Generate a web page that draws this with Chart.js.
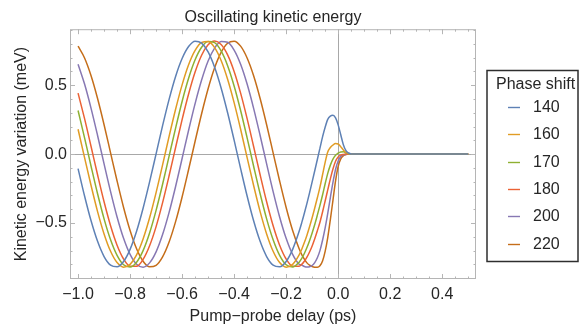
<!DOCTYPE html>
<html>
<head>
<meta charset="utf-8">
<title>Oscillating kinetic energy</title>
<script src="https://cdn.jsdelivr.net/npm/chart.js@4.4.1/dist/chart.umd.min.js"></script>
<style>
  html, body { margin: 0; padding: 0; background: #fff; }
  #chart { display: block; }
</style>
</head>
<body>
<canvas id="chart" width="581" height="327"></canvas>
<script>
/* ================== DATA ================== */
// pump-probe delay (ps)
const delays = [
  -1.0, -0.975, -0.95, -0.925, -0.9, -0.875, -0.85, -0.825, -0.8, -0.775,
  -0.75, -0.725, -0.7, -0.675, -0.65, -0.625, -0.6, -0.575, -0.55, -0.525,
  -0.5, -0.475, -0.45, -0.425, -0.4, -0.375, -0.35, -0.325, -0.3, -0.275,
  -0.25, -0.225, -0.2, -0.175, -0.15,
  -0.14, -0.13, -0.12, -0.11, -0.1, -0.09, -0.08, -0.07, -0.06, -0.05,
  -0.04, -0.03, -0.02, -0.01, 0.0, 0.01, 0.02, 0.03, 0.04, 0.05,
  0.1, 0.2, 0.3, 0.4, 0.5
];

const phaseShifts = [140, 160, 170, 180, 200, 220];

// kinetic energy variation (meV), one array per phase shift
const shift140 = [
  -0.105, -0.304, -0.484, -0.633, -0.743, -0.806, -0.818, -0.779, -0.691, -0.560,
  -0.393, -0.202, 0.002, 0.206, 0.397, 0.563, 0.693, 0.780, 0.819, 0.805,
  0.741, 0.630, 0.480, 0.300, 0.101, -0.105, -0.304, -0.484, -0.633, -0.743,
  -0.806, -0.818, -0.779, -0.691, -0.560,
  -0.497, -0.429, -0.357, -0.281, -0.202, -0.121, -0.039, 0.043, 0.125, 0.195,
  0.252, 0.276, 0.281, 0.262, 0.212, 0.140, 0.068, 0.025, 0.008, 0.001,
  0, 0, 0, 0, 0
];
const shift160 = [
  0.180, -0.025, -0.228, -0.417, -0.579, -0.705, -0.787, -0.820, -0.800, -0.731,
  -0.616, -0.462, -0.279, -0.078, 0.128, 0.325, 0.502, 0.648, 0.752, 0.810,
  0.816, 0.772, 0.679, 0.543, 0.373, 0.180, -0.025, -0.228, -0.417, -0.579,
  -0.705, -0.787, -0.820, -0.800, -0.731,
  -0.690, -0.642, -0.588, -0.527, -0.462, -0.391, -0.317, -0.240, -0.150, -0.060,
  0.015, 0.048, 0.066, 0.076, 0.073, 0.054, 0.030, 0.012, 0.004, 0.001,
  0, 0, 0, 0, 0
];
const shift170 = [
  0.316, 0.118, -0.088, -0.288, -0.470, -0.622, -0.735, -0.803, -0.819, -0.784,
  -0.700, -0.572, -0.408, -0.219, -0.015, 0.189, 0.382, 0.550, 0.684, 0.775,
  0.817, 0.808, 0.748, 0.641, 0.494, 0.316, 0.118, -0.088, -0.288, -0.470,
  -0.622, -0.735, -0.803, -0.819, -0.784,
  -0.757, -0.721, -0.678, -0.628, -0.572, -0.511, -0.443, -0.372, -0.297, -0.215,
  -0.140, -0.080, -0.036, -0.009, 0.007, 0.016, 0.017, 0.010, 0.003, 0.000,
  0, 0, 0, 0, 0
];
const shift180 = [
  0.442, 0.257, 0.055, -0.150, -0.346, -0.520, -0.661, -0.761, -0.813, -0.814,
  -0.764, -0.665, -0.526, -0.352, -0.157, 0.048, 0.250, 0.436, 0.595, 0.717,
  0.793, 0.820, 0.795, 0.720, 0.600, 0.442, 0.257, 0.055, -0.150, -0.346,
  -0.520, -0.661, -0.761, -0.813, -0.814,
  -0.800, -0.777, -0.748, -0.710, -0.666, -0.614, -0.556, -0.494, -0.420, -0.340,
  -0.260, -0.180, -0.108, -0.052, -0.020, -0.007, -0.002, 0, 0, 0,
  0, 0, 0, 0, 0
];
const shift200 = [
  0.652, 0.508, 0.332, 0.135, -0.071, -0.272, -0.456, -0.611, -0.728, -0.799,
  -0.820, -0.789, -0.709, -0.584, -0.423, -0.235, -0.032, 0.173, 0.366, 0.537,
  0.675, 0.769, 0.816, 0.811, 0.755, 0.652, 0.508, 0.332, 0.135, -0.071,
  -0.272, -0.456, -0.611, -0.728, -0.799,
  -0.805, -0.815, -0.819, -0.817, -0.808, -0.787, -0.752, -0.700, -0.625, -0.535,
  -0.430, -0.315, -0.205, -0.112, -0.050, -0.018, -0.006, -0.002, 0, 0,
  0, 0, 0, 0, 0
];
const shift220 = [
  0.783, 0.697, 0.568, 0.403, 0.213, 0.009, -0.195, -0.387, -0.554, -0.687,
  -0.777, -0.818, -0.807, -0.746, -0.638, -0.490, -0.311, -0.112, 0.093, 0.293,
  0.474, 0.626, 0.738, 0.804, 0.819, 0.783, 0.697, 0.568, 0.403, 0.213,
  0.009, -0.195, -0.387, -0.554, -0.687,
  -0.729, -0.762, -0.789, -0.806, -0.815, -0.820, -0.821, -0.810, -0.775, -0.705,
  -0.605, -0.475, -0.335, -0.195, -0.090, -0.035, -0.012, -0.004, 0, 0,
  0, 0, 0, 0, 0
];

const seriesValues = [shift140, shift160, shift170, shift180, shift200, shift220];
const seriesColors = ['#5E81B5', '#E19C24', '#8FB032', '#EB6235', '#8778B3', '#C56E1A'];

const xTickValues = [-1.0, -0.8, -0.6, -0.4, -0.2, 0.0, 0.2, 0.4];
const yTickValues = [-0.5, 0.0, 0.5];

const chartTitle = 'Oscillating kinetic energy';
const xTitle = 'Pump\u2212probe delay (ps)';
const yTitle = 'Kinetic energy variation (meV)';
const legendTitle = 'Phase shift';

/* ================== STYLE ================== */
const FONT = '"Liberation Sans", Arial, Helvetica, sans-serif';
const TEXT = '#262626';
const FRAME = '#b5b5b5';

Chart.defaults.font.family = FONT;
Chart.defaults.font.size = 16;
Chart.defaults.color = TEXT;

const fmt = v => {
  const s = Number(v).toFixed(1);
  return s.startsWith('-') ? '\u2212' + s.slice(1) : s;
};

/* ================== FRAME + TICKS ================== */
const frameTicks = {
  id: 'frameTicks',
  afterDatasetsDraw(chart) {
    const { ctx, chartArea: a, scales: { x, y } } = chart;
    ctx.save();
    ctx.strokeStyle = FRAME;
    ctx.lineWidth = 1;
    ctx.strokeRect(a.left + 0.5, a.top + 0.5, a.right - a.left - 1, a.bottom - a.top - 1);
    ctx.beginPath();
    // x: major every 0.2, minor every 0.05
    for (let i = -20; i <= 10; i++) {
      const px = Math.round(x.getPixelForValue(i * 0.05)) + 0.5;
      const len = i % 4 === 0 ? 5 : 2.5;
      ctx.moveTo(px, a.bottom); ctx.lineTo(px, a.bottom - len);
      ctx.moveTo(px, a.top); ctx.lineTo(px, a.top + len);
    }
    // y: major every 0.5, minor every 0.1
    for (let i = -9; i <= 9; i++) {
      const py = Math.round(y.getPixelForValue(i * 0.1)) + 0.5;
      const len = i % 5 === 0 ? 5 : 2.5;
      ctx.moveTo(a.left, py); ctx.lineTo(a.left + len, py);
      ctx.moveTo(a.right, py); ctx.lineTo(a.right - len, py);
    }
    ctx.stroke();
    ctx.restore();
  }
};

/* ================== BOXED LEGEND ================== */
const boxedLegend = {
  id: 'boxedLegend',
  afterDraw(chart) {
    const { ctx } = chart;
    ctx.save();
    ctx.strokeStyle = '#2e2e2e';
    ctx.lineWidth = 1.5;
    ctx.strokeRect(487, 70.5, 91, 191);
    ctx.font = '16px ' + FONT;
    ctx.fillStyle = TEXT;
    ctx.textBaseline = 'middle';
    ctx.fillText(legendTitle, 496, 85);
    chart.data.datasets.forEach((ds, i) => {
      const yy = Math.round(107 + i * 27.3) + 0.5;
      ctx.strokeStyle = ds.borderColor;
      ctx.lineWidth = 1.4;
      ctx.beginPath();
      ctx.moveTo(508, yy);
      ctx.lineTo(520, yy);
      ctx.stroke();
      ctx.fillText(ds.label, 533, yy);
    });
    ctx.restore();
  }
};

/* ================== CHART ================== */
const zeroLine = c => (c.tick && c.tick.value === 0 ? '#a8a8a8' : 'rgba(0,0,0,0)');

new Chart(document.getElementById('chart'), {
  type: 'line',
  data: {
    datasets: seriesValues.map((vals, i) => ({
      label: String(phaseShifts[i]),
      data: vals.map((v, j) => ({ x: delays[j], y: v })),
      borderColor: seriesColors[i],
      borderWidth: 1.5,
      pointRadius: 0,
      fill: false,
      cubicInterpolationMode: 'monotone'
    }))
  },
  options: {
    responsive: false,
    animation: false,
    layout: { padding: { left: 0, right: 105, top: 0, bottom: 0 } },
    plugins: {
      legend: { display: false },
      tooltip: { enabled: false },
      title: {
        display: true,
        text: chartTitle,
        fullSize: false,
        color: TEXT,
        font: { size: 16, weight: 'normal' },
        padding: { top: 8, bottom: 2 }
      }
    },
    scales: {
      x: {
        type: 'linear',
        min: -1.031,
        max: 0.53,
        afterBuildTicks: s => { s.ticks = xTickValues.map(v => ({ value: v })); },
        afterFit: s => { s.height = 48; },
        ticks: { callback: fmt, padding: 6, maxRotation: 0, autoSkip: false, color: TEXT },
        grid: { color: zeroLine, drawTicks: false, lineWidth: 1 },
        border: { display: false },
        title: { display: true, text: xTitle, color: TEXT, padding: { top: 0, bottom: 1 } }
      },
      y: {
        type: 'linear',
        min: -0.906,
        max: 0.906,
        afterBuildTicks: s => { s.ticks = yTickValues.map(v => ({ value: v })); },
        afterFit: s => { s.width = 70; },
        ticks: { callback: fmt, padding: 3, autoSkip: false, color: TEXT },
        grid: { color: zeroLine, drawTicks: false, lineWidth: 1 },
        border: { display: false },
        title: { display: true, text: yTitle, color: TEXT, padding: { top: 12, bottom: 0 } }
      }
    }
  },
  plugins: [frameTicks, boxedLegend]
});
</script>
</body>
</html>
